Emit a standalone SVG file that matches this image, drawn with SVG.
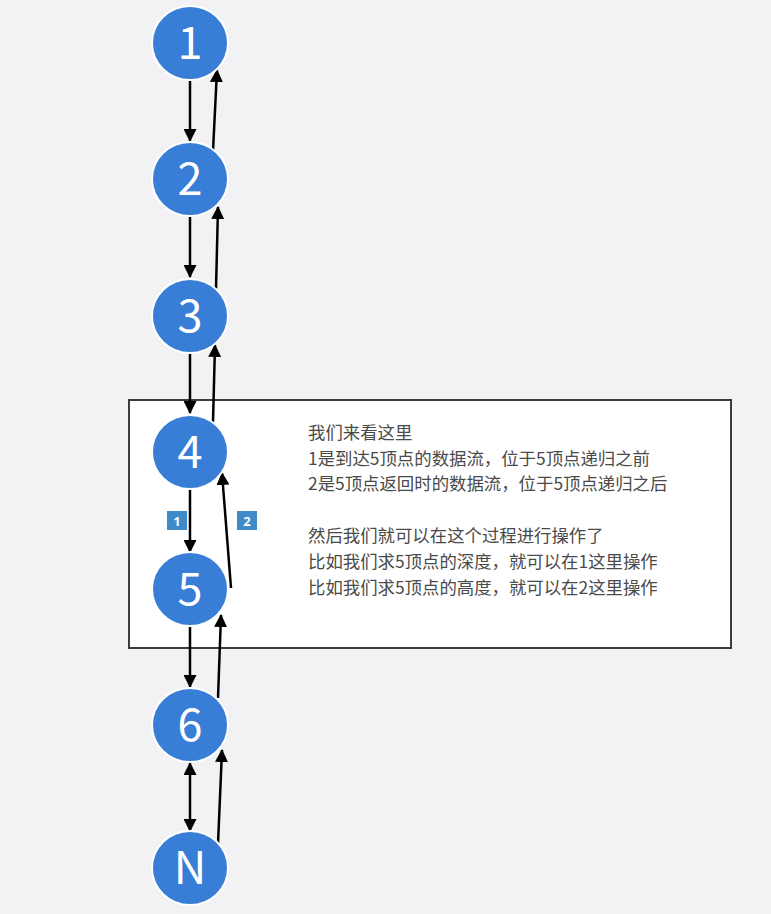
<svg xmlns="http://www.w3.org/2000/svg" width="771" height="914" viewBox="0 0 771 914">
<defs>
<marker id="ah" markerUnits="userSpaceOnUse" markerWidth="13" markerHeight="13" refX="12" refY="6.5" orient="auto-start-reverse" viewBox="0 0 13 13">
<path d="M0,0 L13,6.5 L0,13 z" fill="#000"/>
</marker>
<style>
.node ellipse{fill:#387dd6;stroke:#ffffff;stroke-width:2}
.node text{fill:#ffffff;font-family:"Noto Sans CJK SC","Noto Sans",sans-serif;font-size:45px;text-anchor:middle}
.conn line{stroke:#000;stroke-width:2.5;marker-end:url(#ah)}
.tag rect{fill:#3f8ac9}
.tag text{fill:#fff;font-family:"Noto Sans","Liberation Sans",sans-serif;font-weight:bold;font-size:13px;text-anchor:middle}
.note text{fill:#4a4a4a;font-family:"Noto Sans CJK SC",sans-serif;font-size:17.4px}
</style>
</defs>
<rect x="0" y="0" width="771" height="914" fill="#f2f2f5"/>
<rect x="129" y="400" width="602" height="248" fill="#ffffff" stroke="#3c3c3c" stroke-width="2"/>
<g class="conn">
<line x1="190" y1="81" x2="190" y2="141"/>
<line x1="213" y1="151" x2="217" y2="70"/>
<line x1="190" y1="217" x2="190" y2="277"/>
<line x1="216" y1="289" x2="218" y2="207"/>
<line x1="190" y1="354" x2="190" y2="413"/>
<line x1="213" y1="422" x2="215" y2="345"/>
<line x1="190" y1="490" x2="190" y2="552"/>
<line x1="231" y1="588" x2="222" y2="473"/>
<line x1="190" y1="627" x2="190" y2="687"/>
<line x1="218" y1="698" x2="221" y2="615"/>
<line x1="190" y1="763" x2="190" y2="831" marker-start="url(#ah)"/>
<line x1="218" y1="844" x2="222" y2="750"/>
</g>
<g id="node1" class="node"><ellipse cx="190" cy="43" rx="38" ry="37"/><text x="190" y="59">1</text></g>
<g id="node2" class="node"><ellipse cx="190" cy="179" rx="38" ry="37"/><text x="190" y="195">2</text></g>
<g id="node3" class="node"><ellipse cx="190" cy="316" rx="38" ry="37"/><text x="190" y="332">3</text></g>
<g id="node4" class="node"><ellipse cx="190" cy="452" rx="38" ry="37"/><text x="190" y="468">4</text></g>
<g id="node5" class="node"><ellipse cx="190" cy="589" rx="38" ry="37"/><text x="190" y="605">5</text></g>
<g id="node6" class="node"><ellipse cx="190" cy="725" rx="38" ry="37"/><text x="190" y="741">6</text></g>
<g id="nodeN" class="node"><ellipse cx="190" cy="868" rx="38" ry="37"/><text x="190" y="884">N</text></g>
<g id="tag1" class="tag"><rect x="167" y="511" width="20" height="19"/><text x="177" y="526">1</text></g>
<g id="tag2" class="tag"><rect x="237" y="511" width="20" height="19"/><text x="247" y="526">2</text></g>
<g id="note" class="note">
<text x="308" y="439">我们来看这里</text>
<text x="308" y="465">1是到达5顶点的数据流，位于5顶点递归之前</text>
<text x="308" y="490">2是5顶点返回时的数据流，位于5顶点递归之后</text>
<text x="308" y="542">然后我们就可以在这个过程进行操作了</text>
<text x="308" y="568">比如我们求5顶点的深度，就可以在1这里操作</text>
<text x="308" y="594">比如我们求5顶点的高度，就可以在2这里操作</text>
</g>
</svg>
